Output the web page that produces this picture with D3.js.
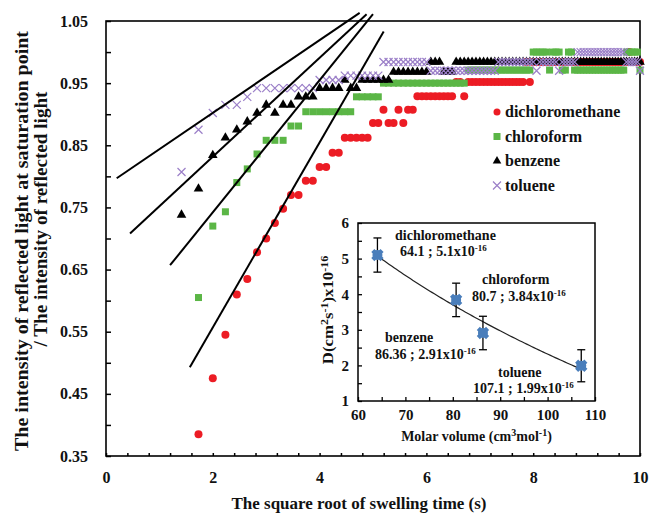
<!DOCTYPE html>
<html>
<head>
<meta charset="utf-8">
<script src="https://cdn.jsdelivr.net/npm/d3@7"></script>
<style>
  body { margin: 0; background: #fff; }
  svg text { font-family: "Liberation Serif", "Times New Roman", serif; font-weight: bold; fill: #111; }
</style>
</head>
<body>
<div id="chart"></div>
<script>
// swelling time (s), one reading per second
const swellTime = [2,3,4,5,6,7,8,9,10,11,12,13,14,15,16,17,18,19,20,21,22,23,24,25,26,27,28,29,30,
  31,32,33,34,35,36,37,38,39,40,41,42,43,44,45,46,47,48,49,50,51,52,53,54,55,56,57,58,59,60,
  61,62,63,64,65,66,67,68,69,70,71,72,73,74,75,76,77,78,79,80,81,82,83,84,85,86,87,88,89,90,
  91,92,93,94,95,96,97,98,99,100];

// normalised reflected light, aligned with swellTime (null = no reading)
const dichloromethane = [null,0.385,0.475,0.545,0.61,0.635,0.678,0.70,0.725,0.748,0.77,0.77,0.793,0.793,0.815,0.815,0.838,0.838,
  0.862,0.862,0.862,0.862,0.862,
  0.886,0.886,0.907,0.886,0.886,0.907,0.886,0.907,0.907,
  0.929,0.929,0.929,0.929,0.929,0.929,0.929,0.929,0.929,
  0.952,0.952,0.929,
  0.952,0.952,0.952,0.952,0.952,0.952,0.952,0.952,0.952,0.952,0.952,0.952,0.952,0.952,0.952,0.952,
  0.984,0.952,
  0.984,0.984,0.984,0.984,0.984,0.984,0.984,0.984,0.984,0.984,0.984,0.984,0.984,0.984,0.984,0.984,
  0.984,0.984,0.984,0.984,0.984,0.984,0.984,0.984,0.984,0.984,0.984,0.984,0.984,0.984,0.984,0.984,
  1.0,0.984,0.984,0.984,0.984];

const chloroform = [null,0.605,0.72,0.743,0.79,0.812,0.836,0.858,0.858,0.858,0.881,0.881,
  0.904,0.904,0.904,0.904,0.904,0.904,0.904,0.904,
  0.928,0.928,0.928,0.928,0.928,
  0.95,0.95,0.95,0.95,0.95,0.95,0.95,0.95,0.95,0.95,0.95,0.95,0.95,0.95,0.95,0.95,0.95,0.95,0.95,
  0.971,0.971,0.971,0.971,0.971,0.971,0.971,0.971,0.971,0.971,0.971,0.971,0.971,0.971,0.971,0.971,0.971,0.971,
  1.0,1.0,1.0,1.0,1.0,0.971,1.0,1.0,1.0,0.971,0.971,1.0,1.0,
  0.971,0.971,0.971,0.971,0.971,0.971,0.971,0.971,0.971,0.971,0.971,0.971,0.971,0.971,0.971,0.971,0.971,0.971,
  1.0,1.0,1.0,1.0,1.0,0.971];

const benzene = [0.738,0.78,0.834,0.862,0.875,0.888,0.902,0.915,0.902,0.915,0.915,
  0.928,0.928,0.928,0.942,0.942,0.942,0.942,0.955,0.942,0.942,
  0.955,0.955,0.955,0.955,0.955,0.955,
  0.968,0.968,0.968,0.968,0.968,0.968,0.968,0.968,
  0.984,0.984,0.984,0.968,0.968,0.968,
  0.984,0.984,0.984,0.984,0.984,0.984,0.984,0.984,0.984,0.984,0.984,0.984,0.984,0.984,0.984,0.984,
  0.984,0.984,0.984,0.984,0.984,0.984,0.984,0.984,0.984,0.984,0.984,0.984,0.984,0.984,0.984,0.984,
  0.984,0.984,0.984,0.984,0.984,0.984,0.984,0.984,0.984,0.984,0.984,0.984,0.984,0.984,0.984,0.984,
  0.984,0.984,0.984,0.984,0.984,0.984,0.984,0.984,0.984,0.984];

const toluene = [0.807,0.875,0.902,0.915,0.915,0.928,
  0.942,0.942,0.942,0.942,0.942,0.942,0.942,0.942,
  0.955,0.955,0.955,0.955,
  0.962,0.962,0.962,0.962,0.962,0.962,0.962,
  0.984,0.984,0.984,0.984,0.984,0.984,0.984,0.984,0.984,0.984,
  0.97,0.97,0.97,0.97,0.97,0.97,0.97,0.97,0.97,0.97,0.97,0.97,0.97,0.97,0.97,0.97,0.97,
  0.984,0.984,0.984,0.984,0.984,0.984,0.984,0.984,0.984,0.984,0.984,
  0.97,0.984,0.984,0.984,0.984,0.984,0.984,0.97,0.984,0.984,0.984,0.984,0.984,
  1.0,1.0,1.0,1.0,1.0,1.0,1.0,1.0,1.0,1.0,1.0,1.0,1.0,1.0,1.0,1.0,1.0,
  0.984,0.984,0.984,0.984,0.984,0.97];

const seriesNames = ['dichloromethane', 'chloroform', 'benzene', 'toluene'];

// initial-slope lines [sqrt t start, value start, sqrt t end, value end]
const slopeLines = [
  [0.2, 0.797, 4.75, 1.063],
  [0.45, 0.708, 4.88, 1.061],
  [1.2, 0.657, 5.0, 1.061],
  [1.57, 0.493, 5.2, 1.033]
];

// inset: diffusion coefficient vs molar volume
const insetSolvents = ['dichloromethane', 'chloroform', 'benzene', 'toluene'];
const molarVolume = [64.1, 80.7, 86.36, 107.1];
const diffusion = [5.1, 3.84, 2.91, 1.99];
const diffusionErr = [0.48, 0.47, 0.47, 0.45];
const insetValueText = ['64.1 ; 5.1x10', '80.7 ; 3.84x10', '86.36 ; 2.91x10', '107.1 ; 1.99x10'];

const width = 651, height = 514;
const svg = d3.select('#chart').append('svg')
    .attr('width', width)
    .attr('height', height);

const x = d3.scaleLinear().domain([0, 10]).range([106, 640]);
const y = d3.scaleLinear().domain([0.35, 1.05]).range([456, 21]);

// main axes
const yTicks = d3.range(0.35, 1.0501, 0.05).map(v => +v.toFixed(2));
svg.append('g')
    .attr('transform', `translate(${x(0)},0)`)
    .call(d3.axisLeft(y).tickValues(yTicks).tickSizeInner(-5).tickSizeOuter(0).tickPadding(18)
        .tickFormat(v => Math.round((v - 0.35) / 0.05) % 2 === 0 ? d3.format('.2f')(v) : ''))
    .call(g => g.select('.domain').remove())
    .call(g => g.selectAll('line').attr('stroke', '#000').attr('stroke-width', 1.5))
    .call(g => g.selectAll('text').style('font-size', '16px').attr('fill', '#111'));

const xTicks = d3.range(0, 10.001, 0.4).map(v => +v.toFixed(1));
svg.append('g')
    .attr('transform', `translate(0,${y(0.35)})`)
    .call(d3.axisBottom(x).tickValues(xTicks).tickSizeInner(-3).tickSizeOuter(0).tickPadding(16)
        .tickFormat(v => (Math.abs(v % 2) < 1e-6 || Math.abs(v % 2 - 2) < 1e-6) ? d3.format('d')(v) : ''))
    .call(g => g.select('.domain').remove())
    .call(g => g.selectAll('line').attr('stroke', '#000').attr('stroke-width', 1.5))
    .call(g => g.selectAll('text').style('font-size', '16px').attr('fill', '#111'));

svg.append('rect')
    .attr('x', x(0)).attr('y', y(1.05))
    .attr('width', x(10) - x(0)).attr('height', y(0.35) - y(1.05))
    .attr('fill', 'none').attr('stroke', '#000').attr('stroke-width', 1.6);

// axis titles
svg.append('text')
    .attr('x', 359).attr('y', 509)
    .attr('text-anchor', 'middle')
    .attr('textLength', 255)
    .attr('lengthAdjust', 'spacingAndGlyphs')
    .style('font-size', '17px')
    .text('The square root of swelling time (s)');

svg.append('text')
    .attr('transform', 'translate(28,241) rotate(-90)')
    .attr('text-anchor', 'middle')
    .attr('textLength', 420)
    .attr('lengthAdjust', 'spacingAndGlyphs')
    .style('font-size', '18px')
    .text('The intensity of reflected light at saturation point');
svg.append('text')
    .attr('transform', 'translate(47,219) rotate(-90)')
    .attr('text-anchor', 'middle')
    .attr('textLength', 255)
    .attr('lengthAdjust', 'spacingAndGlyphs')
    .style('font-size', '18px')
    .text('/ The intensity of reflected light');

// scatter series
const pts = values => swellTime.map((t, i) => ({ t, v: values[i] })).filter(d => d.v != null);

const plot = svg.append('g');

plot.append('g').selectAll('circle')
    .data(pts(dichloromethane))
    .join('circle')
    .attr('cx', d => x(Math.sqrt(d.t)))
    .attr('cy', d => y(d.v))
    .attr('r', 4)
    .attr('fill', '#ec1c24');

plot.append('g').selectAll('rect')
    .data(pts(chloroform))
    .join('rect')
    .attr('x', d => x(Math.sqrt(d.t)) - 3.5)
    .attr('y', d => y(d.v) - 3.5)
    .attr('width', 7).attr('height', 7)
    .attr('fill', '#5bb646');

const tri = d3.symbol().type(d3.symbolTriangle).size(40);
plot.append('g').selectAll('path')
    .data(pts(benzene))
    .join('path')
    .attr('d', tri)
    .attr('transform', d => `translate(${x(Math.sqrt(d.t))},${y(d.v)})`)
    .attr('fill', '#000');

plot.append('g').selectAll('path')
    .data(pts(toluene))
    .join('path')
    .attr('d', 'M-4,-4L4,4M-4,4L4,-4')
    .attr('transform', d => `translate(${x(Math.sqrt(d.t))},${y(d.v)})`)
    .attr('fill', 'none')
    .attr('stroke', '#9b7fc8')
    .attr('stroke-width', 1.2);

// initial slope lines
svg.append('g').selectAll('line')
    .data(slopeLines)
    .join('line')
    .attr('x1', d => x(d[0])).attr('y1', d => y(d[1]))
    .attr('x2', d => x(d[2])).attr('y2', d => y(d[3]))
    .attr('stroke', '#000')
    .attr('stroke-width', 2);

// legend
const legend = svg.append('g');
seriesNames.forEach((name, i) => {
    const ly = 112 + i * 24.5;
    const lx = 497;
    if (i === 0) legend.append('circle').attr('cx', lx).attr('cy', ly).attr('r', 3.5).attr('fill', '#ec1c24');
    if (i === 1) legend.append('rect').attr('x', lx - 3.5).attr('y', ly - 3.5).attr('width', 7).attr('height', 7).attr('fill', '#5bb646');
    if (i === 2) legend.append('path').attr('d', d3.symbol().type(d3.symbolTriangle).size(32)).attr('transform', `translate(${lx},${ly})`).attr('fill', '#000');
    if (i === 3) legend.append('path').attr('d', 'M-4,-4L4,4M-4,4L4,-4').attr('transform', `translate(${lx},${ly})`).attr('stroke', '#9b7fc8').attr('stroke-width', 1.2);
    legend.append('text')
        .attr('x', 505).attr('y', ly + 5)
        .style('font-size', '16px')
        .text(name);
});

// ---- inset ----
const ix = d3.scaleLinear().domain([60, 110]).range([358, 595]);
const iy = d3.scaleLinear().domain([1, 6]).range([401, 223]);
const inset = svg.append('g');

inset.append('rect')
    .attr('x', ix(60)).attr('y', iy(6))
    .attr('width', ix(110) - ix(60)).attr('height', iy(1) - iy(6))
    .attr('fill', '#fff');

inset.append('g')
    .attr('transform', `translate(${ix(60)},0)`)
    .call(d3.axisLeft(iy).tickValues(d3.range(1, 6.01, 0.5)).tickSizeInner(-4).tickSizeOuter(0).tickPadding(9)
        .tickFormat(v => Number.isInteger(v) ? v : ''))
    .call(g => g.select('.domain').remove())
    .call(g => g.selectAll('line').attr('stroke', '#000').attr('stroke-width', 1.3))
    .call(g => g.selectAll('text').style('font-size', '15px').attr('fill', '#111'));

inset.append('g')
    .attr('transform', `translate(0,${iy(1)})`)
    .call(d3.axisBottom(ix).tickValues(d3.range(60, 110.1, 5)).tickSizeInner(-4).tickSizeOuter(0).tickPadding(8)
        .tickFormat(v => v % 10 === 0 ? v : ''))
    .call(g => g.select('.domain').remove())
    .call(g => g.selectAll('line').attr('stroke', '#000').attr('stroke-width', 1.3))
    .call(g => g.selectAll('text').style('font-size', '15px').attr('fill', '#111'));

inset.append('rect')
    .attr('x', ix(60)).attr('y', iy(6))
    .attr('width', ix(110) - ix(60)).attr('height', iy(1) - iy(6))
    .attr('fill', 'none').attr('stroke', '#000').attr('stroke-width', 1.5);

// logarithmic trend line fitted to the four solvents
const lnV = molarVolume.map(Math.log);
const mx = d3.mean(lnV), my = d3.mean(diffusion);
const slope = d3.sum(lnV, (v, i) => (v - mx) * (diffusion[i] - my)) / d3.sum(lnV, v => (v - mx) ** 2);
const icpt = my - slope * mx;
const fitX = d3.range(molarVolume[0], molarVolume[3] + 0.01, 0.5);
inset.append('path')
    .attr('d', d3.line().x(v => ix(v)).y(v => iy(icpt + slope * Math.log(v)))(fitX))
    .attr('fill', 'none')
    .attr('stroke', '#222')
    .attr('stroke-width', 1.2);

// error bars
const eb = inset.append('g').attr('stroke', '#000').attr('stroke-width', 1.3);
molarVolume.forEach((mv, i) => {
    const cx = ix(mv);
    eb.append('line').attr('x1', cx).attr('x2', cx).attr('y1', iy(diffusion[i] - diffusionErr[i])).attr('y2', iy(diffusion[i] + diffusionErr[i]));
    eb.append('line').attr('x1', cx - 4).attr('x2', cx + 4).attr('y1', iy(diffusion[i] + diffusionErr[i])).attr('y2', iy(diffusion[i] + diffusionErr[i]));
    eb.append('line').attr('x1', cx - 4).attr('x2', cx + 4).attr('y1', iy(diffusion[i] - diffusionErr[i])).attr('y2', iy(diffusion[i] - diffusionErr[i]));
});

const mk = inset.append('g').attr('fill', '#4a7ebb');
mk.selectAll('path')
    .data(molarVolume)
    .join('path')
    .attr('d', d3.symbol().type(d3.symbolCross).size(95))
    .attr('transform', (d, i) => `translate(${ix(d)},${iy(diffusion[i])}) rotate(45)`);
mk.selectAll('circle')
    .data(molarVolume)
    .join('circle')
    .attr('cx', d => ix(d))
    .attr('cy', (d, i) => iy(diffusion[i]))
    .attr('r', 5);

// annotations: [name x, name baseline, value x, value baseline]
const annotPos = [[395, 240, 400, 256], [482, 284, 472, 301], [385, 342, 375, 359], [498, 377, 473, 393]];
insetSolvents.forEach((name, i) => {
    const p = annotPos[i];
    inset.append('text').attr('x', p[0]).attr('y', p[1]).style('font-size', '14px').text(name);
    const t = inset.append('text').attr('x', p[2]).attr('y', p[3]).style('font-size', '14px');
    t.append('tspan').text(insetValueText[i]);
    t.append('tspan').attr('dy', -5).style('font-size', '9px').text('-16');
});

// inset axis titles
const iyt = inset.append('text')
    .attr('transform', `translate(333,${(iy(1) + iy(6)) / 2 - 2}) rotate(-90) scale(1.2,1)`)
    .attr('text-anchor', 'middle')
    .style('font-size', '14px');
iyt.append('tspan').text('D(cm');
iyt.append('tspan').attr('dy', -5).style('font-size', '10px').text('2');
iyt.append('tspan').attr('dy', 5).text('s');
iyt.append('tspan').attr('dy', -5).style('font-size', '10px').text('-1');
iyt.append('tspan').attr('dy', 5).text(')x10');
iyt.append('tspan').attr('dy', -5).style('font-size', '10px').text('-16');

const ixt = inset.append('text')
    .attr('x', (ix(60) + ix(110)) / 2).attr('y', 441)
    .attr('text-anchor', 'middle')
    .style('font-size', '14px');
ixt.append('tspan').text('Molar volume (cm');
ixt.append('tspan').attr('dy', -5).style('font-size', '10px').text('3');
ixt.append('tspan').attr('dy', 5).text('mol');
ixt.append('tspan').attr('dy', -5).style('font-size', '10px').text('-1');
ixt.append('tspan').attr('dy', 5).text(')');
</script>
</body>
</html>
